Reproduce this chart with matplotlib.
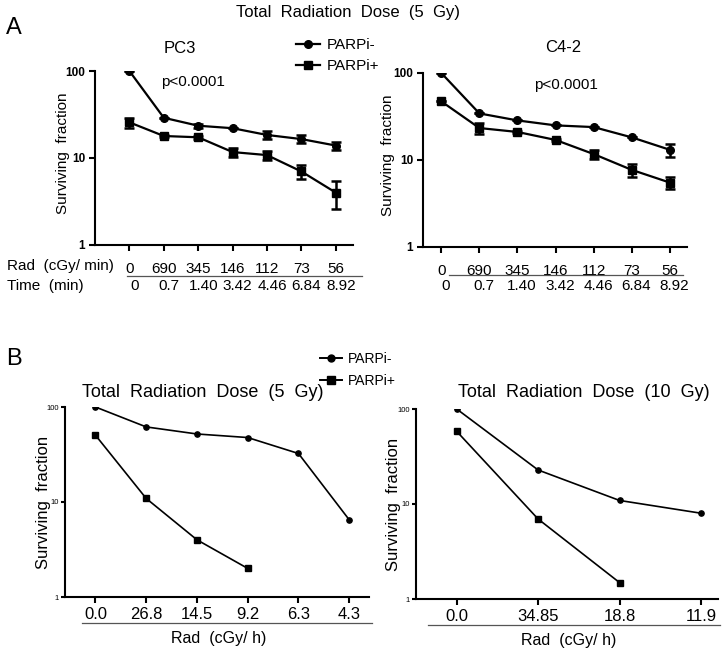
import matplotlib

matplotlib.use("Agg")
import matplotlib.pyplot as plt
import matplotlib.transforms as mtransforms
from matplotlib.lines import Line2D

plt.rcParams["font.family"] = ["Liberation Sans", "DejaVu Sans"]

# panel A data (PC3 and C4-2, 5 Gy total)
a_rad_labels = ["0", "690", "345", "146", "112", "73", "56"]
a_time_labels = ["0", "0.7", "1.40", "3.42", "4.46", "6.84", "8.92"]

pc3_minus = [100, 29, 23.5, 22, 18.4, 16.5, 13.9]
pc3_minus_err = [0, 0, 1.2, 0, 1.9, 1.8, 1.5]
pc3_plus = [25.7, 17.9, 17.3, 11.7, 10.8, 7.0, 4.0]
pc3_plus_err = [3.5, 0.5, 0.8, 1.5, 1.3, 1.25, 1.4]

c42_minus = [100, 34.3, 28.5, 25, 23.9, 18.2, 13.1]
c42_minus_err = [0, 0, 0, 0, 0, 0, 2.3]
c42_plus = [47.2, 23.3, 21, 17, 11.7, 7.7, 5.5]
c42_plus_err = [0, 3.5, 0.5, 0.5, 1.5, 1.4, 0.8]

# panel B data
b5_labels = ["0.0", "26.8", "14.5", "9.2", "6.3", "4.3"]
b5_minus = [100, 61.7, 52, 47.7, 32.4, 6.5]
b5_plus = [50.5, 10.9, 4.0, 2.0]

b10_labels = ["0.0", "34.85", "18.8", "11.9"]
b10_minus = [100, 22.8, 10.9, 8.0]
b10_plus = [58.2, 6.95, 1.49]

W, H = 723, 652


def px_axes(x0, y0, x1, y1):
    # axes box from pixel corners (top-left origin)
    return fig.add_axes([x0 / W, 1 - y1 / H, (x1 - x0) / W, (y1 - y0) / H])


def style_log_axis(ax, ytick_size, ytick_weight, lw, ypad):
    ax.set_yscale("log")
    ax.set_ylim(1, 100)
    ax.set_yticks([1, 10, 100])
    ax.set_yticklabels(["1", "10", "100"], fontsize=ytick_size, fontweight=ytick_weight)
    ax.yaxis.set_minor_locator(matplotlib.ticker.NullLocator())
    for side in ("top", "right"):
        ax.spines[side].set_visible(False)
    for side in ("left", "bottom"):
        ax.spines[side].set_linewidth(lw)
    ax.tick_params(width=lw, length=4, direction="out")
    ax.tick_params(axis="y", pad=ypad)


def hline(ax, x0, x1, y):
    trans = mtransforms.blended_transform_factory(ax.transData, ax.transAxes)
    ax.plot([x0, x1], [y, y], color="#555555", lw=0.9, transform=trans, clip_on=False)


fig = plt.figure(figsize=(W / 100, H / 100), dpi=100)

fig.text(348 / W, 1 - 12 / H, "Total  Radiation  Dose  (5  Gy)", fontsize=12,
         ha="center", va="center")
fig.text(6 / W, 1 - 28 / H, "A", fontsize=17, ha="left", va="center")
fig.text(6 / W, 1 - 359 / H, "B", fontsize=17, ha="left", va="center")


def panel_a(ax, name, minus, minus_err, plus, plus_err, xlim, title_xy, p_xy):
    x = list(range(len(minus)))
    ax.errorbar(x, minus, yerr=minus_err, color="black", marker="o", ms=5.5, lw=1.6,
                elinewidth=1.8, capsize=3.5, capthick=1.8)
    ax.errorbar(x, plus, yerr=plus_err, color="black", marker="s", ms=6, lw=1.6,
                elinewidth=1.8, capsize=3.5, capthick=1.8)
    style_log_axis(ax, 8.5, "bold", 1.5, 3)
    ax.set_xlim(*xlim)
    ax.set_xticks(x)
    ax.set_xticklabels(a_rad_labels, fontsize=11)
    shift = mtransforms.ScaledTranslation(4 / 100, 0, fig.dpi_scale_trans)
    for lab in ax.get_xticklabels():
        lab.set_transform(lab.get_transform() + shift)
    ax.tick_params(axis="x", pad=8)
    ax.set_ylabel("Surviving  fraction", fontsize=11)
    ax.text(title_xy[0], title_xy[1], name, transform=ax.transAxes, fontsize=12,
            ha="center", va="center")
    ax.text(p_xy[0], p_xy[1], "p<0.0001", transform=ax.transAxes, fontsize=11,
            ha="center", va="center")
    return x


ax1 = px_axes(95, 71, 353, 245)
x1 = panel_a(ax1, "PC3", pc3_minus, pc3_minus_err, pc3_plus, pc3_plus_err,
             (-1, 6.5), (0.33, 1.132), (0.38, 0.937))
ax1.yaxis.set_label_coords(-0.097, 0.53)
hline(ax1, -0.07, 6.76, -0.178)
trans1 = mtransforms.blended_transform_factory(ax1.transData, ax1.transAxes)
for xi, lab in zip(x1, a_time_labels):
    ax1.text(xi + 0.15, -0.236, lab, transform=trans1, fontsize=11, ha="center", va="center")
fig.text(7 / W, 1 - 266 / H, "Rad  (cGy/ min)", fontsize=11, ha="left", va="center")
fig.text(7 / W, 1 - 286 / H, "Time  (min)", fontsize=11, ha="left", va="center")

ax2 = px_axes(423, 73, 687, 247)
x2 = panel_a(ax2, "C4-2", c42_minus, c42_minus_err, c42_plus, c42_plus_err,
             (-0.48, 6.45), (0.53, 1.146), (0.54, 0.933))
ax2.yaxis.set_label_coords(-0.106, 0.53)
hline(ax2, 0.2, 6.34, -0.161)
trans2 = mtransforms.blended_transform_factory(ax2.transData, ax2.transAxes)
for xi, lab in zip(x2, a_time_labels):
    ax2.text(xi + 0.12, -0.225, lab, transform=trans2, fontsize=11, ha="center", va="center")

fig.legend(
    handles=[
        Line2D([], [], color="black", marker="o", ms=5.5, lw=1.6),
        Line2D([], [], color="black", marker="s", ms=6, lw=1.6),
    ],
    labels=["PARPi-", "PARPi+"],
    loc="upper left",
    bbox_to_anchor=(296 / W, 1 - 38 / H),
    frameon=False,
    fontsize=11,
    handlelength=1.6,
    handletextpad=0.4,
    labelspacing=0.45,
    borderpad=0,
    borderaxespad=0,
)


def panel_b(ax, labels, minus, plus, xlim, title, title_xy):
    ax.plot(range(len(minus)), minus, color="black", marker="o", ms=3.8, lw=1.2)
    ax.plot(range(len(plus)), plus, color="black", marker="s", ms=4, lw=1.2)
    style_log_axis(ax, 5.5, "normal", 1.5, 1.2)
    ax.tick_params(axis="y", length=3)
    ax.set_xlim(*xlim)
    ax.set_xticks(range(len(labels)))
    ax.set_xticklabels(labels, fontsize=12)
    ax.tick_params(axis="x", pad=3)
    ax.set_ylabel("Surviving  fraction", fontsize=12)
    ax.text(title_xy[0], title_xy[1], title, transform=ax.transAxes, fontsize=13,
            ha="center", va="center")
    ax.text(0.505, -0.216, "Rad  (cGy/ h)", transform=ax.transAxes, fontsize=11.5,
            ha="center", va="center")


ax3 = px_axes(65, 407, 369, 597)
panel_b(ax3, b5_labels, b5_minus, b5_plus, (-0.6, 5.39),
        "Total  Radiation  Dose  (5  Gy)", (0.453, 1.074))
ax3.yaxis.set_label_coords(-0.046, 0.5)
hline(ax3, -0.265, 5.44, -0.138)

ax4 = px_axes(416, 409, 718, 599)
panel_b(ax4, b10_labels, b10_minus, b10_plus, (-0.5, 3.21),
        "Total  Radiation  Dose  (10  Gy)", (0.556, 1.088))
ax4.yaxis.set_label_coords(-0.05, 0.5)
hline(ax4, -0.35, 3.23, -0.135)

fig.legend(
    handles=[
        Line2D([], [], color="black", marker="o", ms=5, lw=1.4),
        Line2D([], [], color="black", marker="s", ms=5.5, lw=1.4),
    ],
    labels=["PARPi-", "PARPi+"],
    loc="upper left",
    bbox_to_anchor=(320 / W, 1 - 352 / H),
    frameon=False,
    fontsize=10,
    handlelength=1.6,
    handletextpad=0.4,
    labelspacing=0.55,
    borderpad=0,
    borderaxespad=0,
)

fig.savefig("out.png", dpi=100)
